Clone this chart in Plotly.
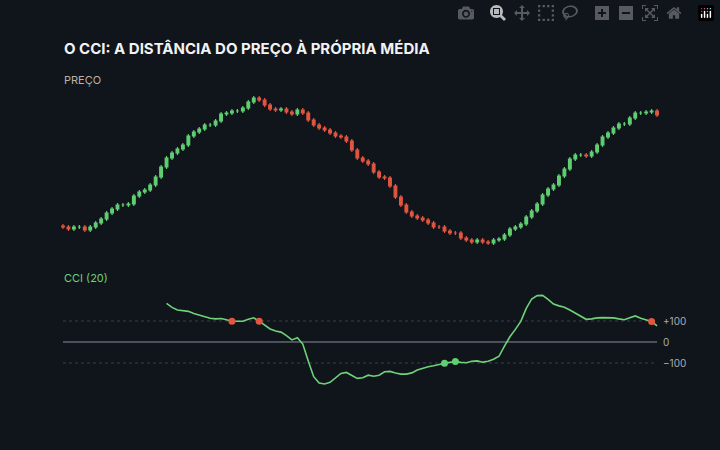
import plotly.graph_objects as go

# price candle closes (pixel-read levels)
close_y = [227,229,227,227,230,227,223,219,213,209,205,205,204,196,192,190,185,177,167,158,153,149,145,136,132,129,125,125,121,114,113,111,111,108,102,98,100,105,109,110,109,112,114,110,113,120,125,128,130,133,136,137,141,150,158,161,164,
           172,177,178,186,197,205,212,216,218,220,223,227,227,231,233,233,238,240,242,240,242,243,240,239,235,229,227,224,217,211,204,195,189,185,176,169,159,155,155,156,152,145,137,133,128,124,124,118,113,113,112,111,115]
closes = [300 - v for v in close_y]
opens = [closes[0] + 1] + closes[:-1]
highs = [max(o, c) + 2 for o, c in zip(opens, closes)]
lows = [min(o, c) - 2 for o, c in zip(opens, closes)]
idx = list(range(len(closes)))

cci_start = 19
cci = [184,165,152,149,146,136,128,123,113,110,112,106,99,99,99,108,115,99,80,62,52,47,30,10,20,-10,-90,-165,-195,-200,-192,-170,-150,-145,-160,-173,-170,-158,-163,-158,-142,-140,-148,-153,-153,-147,-133,-124,-118,-113,-106,-101,-97,-93,-97,-99,-92,-90,-96,-92,-82,-68,-20,25,60,98,160,205,221,222,203,181,172,165,152,138,120,108,110,115,116,115,115,110,106,115,124,113,107,98,77]
cci_x = list(range(cci_start, cci_start + len(cci)))
sell_idx = [31, 36, 108]
buy_idx = [70, 72]
cci_levels = [100, 0, -100]
cci_labels = ["+100", "0", "\u2212100"]

GREEN = "#5fcf72"
RED = "#e2553f"
BG = "#10141b"

fig = go.Figure()
fig.add_trace(go.Candlestick(x=idx, open=opens, high=highs, low=lows, close=closes,
    increasing=dict(line=dict(color=GREEN, width=1.2), fillcolor=GREEN),
    decreasing=dict(line=dict(color=RED, width=1.2), fillcolor=RED),
    whiskerwidth=0, showlegend=False, xaxis="x", yaxis="y"))

x0, x1 = 0, len(closes) - 1
for lv in cci_levels:
    fig.add_trace(go.Scatter(x=[x0, x1], y=[lv, lv], mode="lines",
        line=dict(color="#8a8f98" if lv == 0 else "#3a404a", width=1, dash="solid" if lv == 0 else "dot"),
        showlegend=False, hoverinfo="skip", xaxis="x2", yaxis="y2"))

fig.add_trace(go.Scatter(x=cci_x, y=cci, mode="lines", line=dict(color="#6fd27a", width=1.6),
    showlegend=False, xaxis="x2", yaxis="y2"))
fig.add_trace(go.Scatter(x=sell_idx, y=[cci[i - cci_start] for i in sell_idx], mode="markers",
    marker=dict(color=RED, size=7), showlegend=False, xaxis="x2", yaxis="y2"))
fig.add_trace(go.Scatter(x=buy_idx, y=[cci[i - cci_start] for i in buy_idx], mode="markers",
    marker=dict(color=GREEN, size=7), showlegend=False, xaxis="x2", yaxis="y2"))

r0 = -63 / 5.45
xr = [r0, r0 + 720 / 5.45]
ax = dict(range=xr, visible=False, fixedrange=True)
fig.update_layout(
    width=720, height=450, paper_bgcolor=BG, plot_bgcolor=BG,
    margin=dict(l=0, r=0, t=0, b=0),
    xaxis=dict(**ax, domain=[0, 1], anchor="y", rangeslider=dict(visible=False)),
    xaxis2=dict(**ax, domain=[0, 1], anchor="y2"),
    yaxis=dict(range=[50, 205], domain=[1 - 250 / 450, 1 - 95 / 450], visible=False),
    yaxis2=dict(range=[-240, 260], domain=[1 - 392.4 / 450, 1 - 287.4 / 450], visible=False),
    font=dict(family="Inter, Lato, sans-serif"),
)
ann = [
    dict(text="<b>O CCI: A DISTÂNCIA DO PREÇO À PRÓPRIA MÉDIA</b>", x=62 / 720, y=1 - 48 / 450,
         font=dict(size=15, color="#f2f2f2"), xanchor="left", yanchor="middle"),
    dict(text="PREÇO", x=62 / 720, y=1 - 80 / 450, font=dict(size=11, color="#b9b2a3"),
         xanchor="left", yanchor="middle"),
    dict(text="CCI (20)", x=62 / 720, y=1 - 278 / 450, font=dict(size=11, color="#6fd27a"),
         xanchor="left", yanchor="middle"),
]
for a in ann:
    a.update(xref="paper", yref="paper", showarrow=False)
for lv, lb in zip(cci_levels, cci_labels):
    ann.append(dict(text=lb, x=661 / 720, xref="paper", y=lv, yref="y2", showarrow=False,
                    xanchor="left", yanchor="middle", font=dict(size=10, color="#a9adb4")))
fig.update_layout(annotations=ann)
fig.write_html("out.html", post_script="document.body.style.margin='0';document.body.style.background='#10141b';")
